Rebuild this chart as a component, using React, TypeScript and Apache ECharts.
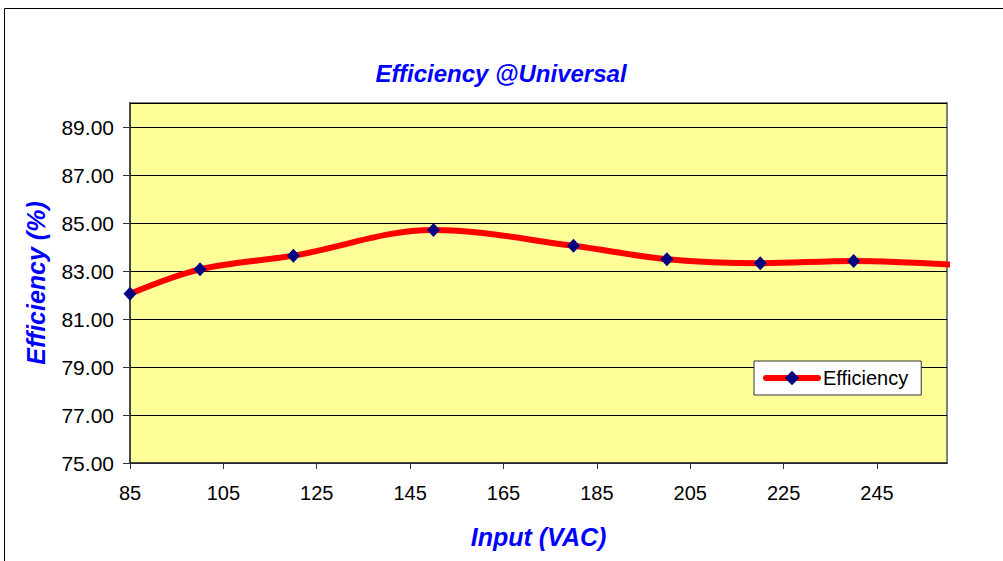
import React, { useEffect, useRef } from "react";
import * as echarts from "echarts";

const inputVac = [85, 100, 120, 150, 180, 200, 220, 240, 262];
const efficiency = [82.05, 83.07, 83.64, 84.71, 84.05, 83.49, 83.32, 83.42, 83.25];
const hasMarker = [true, true, true, true, true, true, true, true, false];
const yTicks = [75, 77, 79, 81, 83, 85, 87, 89];
const xTicks = [85, 105, 125, 145, 165, 185, 205, 225, 245];

const FONT = "Arial, 'Liberation Sans', sans-serif";

export default function App() {
  const ref = useRef<HTMLDivElement>(null);
  useEffect(() => {
    document.body.style.margin = "0";
    const chart = echarts.init(ref.current!, undefined, { renderer: "svg" });
    const data = inputVac.map((x, i) =>
      hasMarker[i] ? [x, efficiency[i]] : { value: [x, efficiency[i]], symbol: "none" }
    );
    chart.setOption({
      animation: false,
      backgroundColor: "#ffffff",
      graphic: [
        {
          type: "rect",
          shape: { x: 4.5, y: 8.5, width: 1100, height: 700 },
          style: { fill: "none", stroke: "#000", lineWidth: 1 },
          silent: true,
        },
      ],
      title: {
        text: "Efficiency @Universal",
        left: 496,
        textAlign: "center",
        top: 56,
        textStyle: { color: "#0000FF", fontSize: 24, fontWeight: "bold", fontStyle: "italic", fontFamily: FONT },
      },
      legend: {
        left: 754,
        top: 361,
        data: ["Efficiency"],
        backgroundColor: "#ffffff",
        borderColor: "#333",
        borderWidth: 1,
        borderRadius: 0,
        padding: [7, 13, 7, 9],
        itemWidth: 52,
        itemHeight: 18,
        itemGap: 0,
        lineStyle: { width: 6, cap: "round" },
        textStyle: { fontSize: 20, color: "#000", fontFamily: FONT },
      },
      grid: {
        left: 130,
        top: 103,
        width: 817,
        height: 360,
        show: true,
        backgroundColor: "#FFFF99",
        borderColor: "#808080",
        borderWidth: 2,
        containLabel: false,
      },
      xAxis: {
        type: "value",
        min: 85,
        max: 260,
        interval: 20,
        name: "Input (VAC)",
        nameLocation: "middle",
        nameGap: 61,
        nameTextStyle: { color: "#0000FF", fontSize: 25, fontWeight: "bold", fontStyle: "italic", fontFamily: FONT },
        axisLine: { show: true, lineStyle: { color: "#333", width: 1.5 } },
        axisTick: { show: true, length: 6, lineStyle: { color: "#333" } },
        axisLabel: {
          showMaxLabel: false,
          margin: 20,
          fontSize: 20,
          color: "#000",
          fontFamily: FONT,
          formatter: (v: number) => (xTicks.includes(v) ? String(v) : ""),
        },
        splitLine: { show: false },
      },
      yAxis: {
        type: "value",
        min: 75,
        max: 90,
        interval: 2,
        name: "Efficiency (%)",
        nameLocation: "middle",
        nameGap: 82,
        nameTextStyle: { color: "#0000FF", fontSize: 25, fontWeight: "bold", fontStyle: "italic", fontFamily: FONT },
        axisLine: { show: true, lineStyle: { color: "#333", width: 1.5 } },
        axisTick: { show: true, length: 7, lineStyle: { color: "#333" } },
        axisLabel: {
          showMaxLabel: false,
          margin: 16,
          fontSize: 21,
          color: "#000",
          fontFamily: FONT,
          formatter: (v: number) => (yTicks.includes(v) ? v.toFixed(2) : ""),
        },
        splitLine: { show: true, lineStyle: { color: "#000", width: 1 } },
      },
      series: [
        {
          name: "Efficiency",
          type: "line",
          data,
          smooth: 0.35,
          clip: false,
          symbol: "diamond",
          symbolSize: [13, 14],
          itemStyle: { color: "#000080" },
          lineStyle: { color: "#FF0000", width: 6 },
          z: 3,
        },
      ],
    });
    return () => chart.dispose();
  }, []);
  return <div ref={ref} style={{ width: 1003, height: 561 }} />;
}
